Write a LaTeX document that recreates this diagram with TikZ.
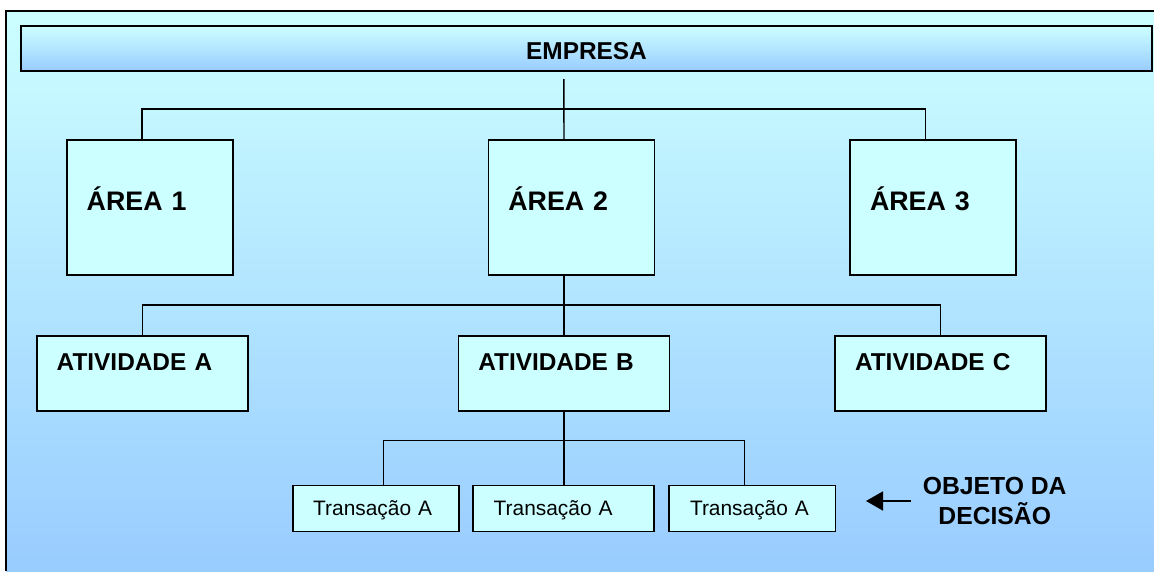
\documentclass[tikz,border=0pt]{standalone}
\usepackage{fontspec}
\setmainfont{Liberation Sans}
\usepackage{tikz}
\usetikzlibrary{arrows.meta}

\definecolor{boxfill}{RGB}{204,255,255}
\definecolor{bgtop}{RGB}{204,255,255}
\definecolor{bgbottom}{RGB}{153,204,255}

\tikzset{
    box/.style={draw=black, line width=1.6pt, fill=boxfill, outer sep=0pt,
        inner ysep=0pt, inner xsep=20pt, align=left, anchor=north west,
        font=\bfseries\fontsize{24.4}{29}\selectfont},
    areabox/.style={box, text width=126pt, text height=70.7pt, text depth=64.3pt,
        font=\bfseries\fontsize{26.8}{32}\selectfont},
    ativbox/.style={box, text width=171pt, text height=34.3pt, text depth=40.7pt},
    transbox/.style={box, text height=29.5pt, text depth=16.3pt,
        font=\fontsize{20.9}{25}\selectfont},
    link/.style={line width=1.4pt}
}

\begin{document}
\begin{tikzpicture}[x=1pt, y=-1pt]

    % Page size and background
    \useasboundingbox (0,0) rectangle (1154,571);
    \shade[top color=bgtop, bottom color=bgbottom] (6,11) rectangle (1154,571);
    \draw[line width=2pt] (6,571) -- (6,11) -- (1154,11);

    % Company bar
    \node[draw=black, line width=1.6pt, top color=bgtop, bottom color=bgbottom,
        minimum width=1131pt, inner sep=0pt, outer sep=0pt, anchor=north west,
        text height=33pt, text depth=12pt,
        font=\bfseries\fontsize{24.4}{29}\selectfont] (empresa) at (21,26) {EMPRESA};

    % Areas
    \node[areabox] (area1) at (66.7,140) {ÁREA 1};
    \node[areabox] (area2) at (488.3,140) {ÁREA 2};
    \node[areabox] (area3) at (850,140) {ÁREA 3};

    % Activities
    \node[ativbox] (atA) at (36.7,335.7) {ATIVIDADE A};
    \node[ativbox] (atB) at (458.3,335.7) {ATIVIDADE B};
    \node[ativbox] (atC) at (835,335.7) {ATIVIDADE C};

    % Transactions
    \node[transbox, text width=125.7pt, inner xsep=20.2pt] (tA) at (293,485.5) {Transação A};
    \node[transbox, text width=139.4pt, inner xsep=20.7pt] (tB) at (473,485.5) {Transação A};
    \node[transbox, text width=124.4pt, inner xsep=21pt] (tC) at (669,485.5) {Transação A};

    % Bus levels
    \coordinate (top) at ([yshift=-8pt]empresa.south -| atB.north);
    \coordinate (bus1) at (564,109);
    \coordinate (bus2) at (564,305);
    \coordinate (bus3) at (564,440.7);

    % Connectors
    \draw[link] (top) -- (bus1 |- area2.north);
    \draw[link] ([xshift=-7.7pt]area1.north) |- (bus1) -| ([xshift=-7.4pt]area3.north);
    \draw[link] (bus2 |- area2.south) -- (bus2 |- atB.north);
    \draw[link] (atA.north) |- (bus2) -| (atC.north);
    \draw[link] (bus3 |- atB.south) -- (bus3 |- tB.north);
    \draw[link] ([xshift=7.2pt]tA.north) |- (bus3) -| ([xshift=-7.5pt]tC.north);

    % Decision object
    \node[align=center, anchor=west, inner xsep=11.7pt, inner ysep=0pt,
        font=\bfseries\fontsize{24.7}{29.7}\selectfont] (objeto) at (911,501)
        {OBJETO DA\\DECISÃO};
    \coordinate (tip) at (866,501);
    \draw[line width=1.8pt, -{Triangle[length=17pt, width=19pt]}] (objeto.west) -- (tip);

\end{tikzpicture}
\end{document}
